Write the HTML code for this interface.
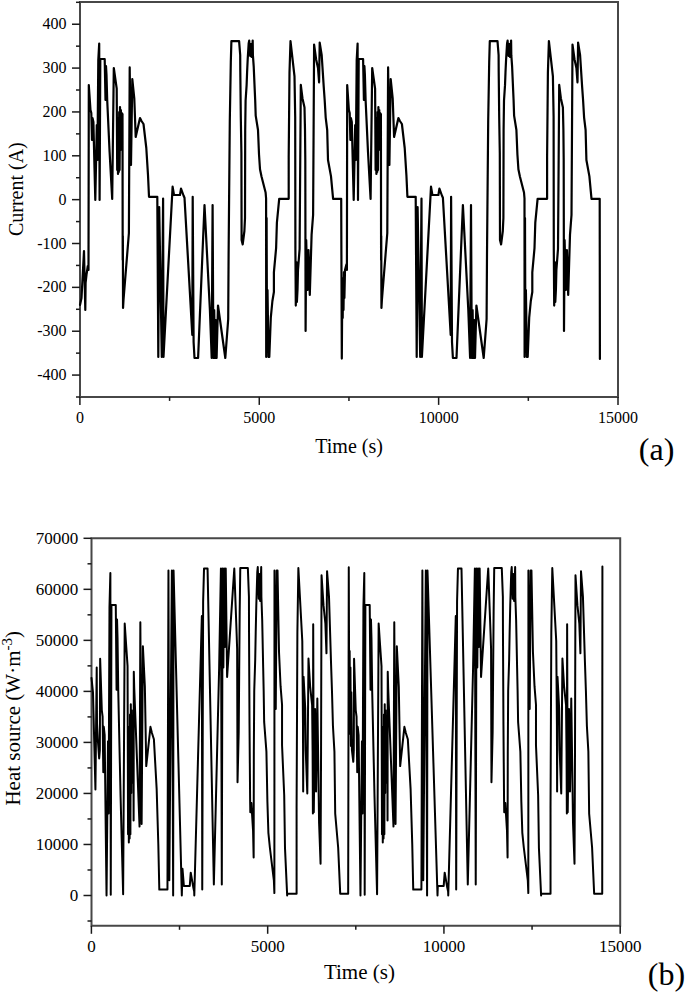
<!DOCTYPE html>
<html><head><meta charset="utf-8"><style>
html,body{margin:0;padding:0;background:#fff;}
svg{display:block;}
text{font-family:"Liberation Serif",serif;fill:#000;}
</style></head><body>
<svg width="685" height="993" viewBox="0 0 685 993">
<rect x="0" y="0" width="685" height="993" fill="#fff"/>
<path d="M80.0,2.0 H618.0 V396.9 H80.0 Z" fill="none" stroke="#474747" stroke-width="2"/>
<line x1="76.0" y1="397.00" x2="80.0" y2="397.00" stroke="#1a1a1a" stroke-width="1.5"/>
<line x1="72.0" y1="375.07" x2="80.0" y2="375.07" stroke="#1a1a1a" stroke-width="1.5"/>
<text x="66.5" y="380.07" text-anchor="end" font-size="16" font-family="Liberation Serif, serif">-400</text>
<line x1="76.0" y1="353.14" x2="80.0" y2="353.14" stroke="#1a1a1a" stroke-width="1.5"/>
<line x1="72.0" y1="331.22" x2="80.0" y2="331.22" stroke="#1a1a1a" stroke-width="1.5"/>
<text x="66.5" y="336.22" text-anchor="end" font-size="16" font-family="Liberation Serif, serif">-300</text>
<line x1="76.0" y1="309.29" x2="80.0" y2="309.29" stroke="#1a1a1a" stroke-width="1.5"/>
<line x1="72.0" y1="287.36" x2="80.0" y2="287.36" stroke="#1a1a1a" stroke-width="1.5"/>
<text x="66.5" y="292.36" text-anchor="end" font-size="16" font-family="Liberation Serif, serif">-200</text>
<line x1="76.0" y1="265.43" x2="80.0" y2="265.43" stroke="#1a1a1a" stroke-width="1.5"/>
<line x1="72.0" y1="243.50" x2="80.0" y2="243.50" stroke="#1a1a1a" stroke-width="1.5"/>
<text x="66.5" y="248.50" text-anchor="end" font-size="16" font-family="Liberation Serif, serif">-100</text>
<line x1="76.0" y1="221.58" x2="80.0" y2="221.58" stroke="#1a1a1a" stroke-width="1.5"/>
<line x1="72.0" y1="199.65" x2="80.0" y2="199.65" stroke="#1a1a1a" stroke-width="1.5"/>
<text x="66.5" y="204.65" text-anchor="end" font-size="16" font-family="Liberation Serif, serif">0</text>
<line x1="76.0" y1="177.72" x2="80.0" y2="177.72" stroke="#1a1a1a" stroke-width="1.5"/>
<line x1="72.0" y1="155.80" x2="80.0" y2="155.80" stroke="#1a1a1a" stroke-width="1.5"/>
<text x="66.5" y="160.80" text-anchor="end" font-size="16" font-family="Liberation Serif, serif">100</text>
<line x1="76.0" y1="133.87" x2="80.0" y2="133.87" stroke="#1a1a1a" stroke-width="1.5"/>
<line x1="72.0" y1="111.94" x2="80.0" y2="111.94" stroke="#1a1a1a" stroke-width="1.5"/>
<text x="66.5" y="116.94" text-anchor="end" font-size="16" font-family="Liberation Serif, serif">200</text>
<line x1="76.0" y1="90.01" x2="80.0" y2="90.01" stroke="#1a1a1a" stroke-width="1.5"/>
<line x1="72.0" y1="68.09" x2="80.0" y2="68.09" stroke="#1a1a1a" stroke-width="1.5"/>
<text x="66.5" y="73.09" text-anchor="end" font-size="16" font-family="Liberation Serif, serif">300</text>
<line x1="76.0" y1="46.16" x2="80.0" y2="46.16" stroke="#1a1a1a" stroke-width="1.5"/>
<line x1="72.0" y1="24.23" x2="80.0" y2="24.23" stroke="#1a1a1a" stroke-width="1.5"/>
<text x="66.5" y="29.23" text-anchor="end" font-size="16" font-family="Liberation Serif, serif">400</text>
<line x1="76.0" y1="2.30" x2="80.0" y2="2.30" stroke="#1a1a1a" stroke-width="1.5"/>
<line x1="79.90" y1="396.9" x2="79.90" y2="404.9" stroke="#1a1a1a" stroke-width="1.5"/>
<text x="79.90" y="423.0" text-anchor="middle" font-size="16" font-family="Liberation Serif, serif">0</text>
<line x1="169.58" y1="396.9" x2="169.58" y2="400.9" stroke="#1a1a1a" stroke-width="1.5"/>
<line x1="259.27" y1="396.9" x2="259.27" y2="404.9" stroke="#1a1a1a" stroke-width="1.5"/>
<text x="259.27" y="423.0" text-anchor="middle" font-size="16" font-family="Liberation Serif, serif">5000</text>
<line x1="348.95" y1="396.9" x2="348.95" y2="400.9" stroke="#1a1a1a" stroke-width="1.5"/>
<line x1="438.63" y1="396.9" x2="438.63" y2="404.9" stroke="#1a1a1a" stroke-width="1.5"/>
<text x="438.63" y="423.0" text-anchor="middle" font-size="16" font-family="Liberation Serif, serif">10000</text>
<line x1="528.32" y1="396.9" x2="528.32" y2="400.9" stroke="#1a1a1a" stroke-width="1.5"/>
<line x1="618.00" y1="396.9" x2="618.00" y2="404.9" stroke="#1a1a1a" stroke-width="1.5"/>
<text x="618.00" y="423.0" text-anchor="middle" font-size="16" font-family="Liberation Serif, serif">15000</text>
<text x="349.1" y="452.7" text-anchor="middle" font-size="20" font-family="Liberation Serif, serif">Time (s)</text>
<text transform="translate(23.3,189.2) rotate(-90)" text-anchor="middle" font-size="20" font-family="Liberation Serif, serif">Current (A)</text>
<text x="656.6" y="459.8" text-anchor="middle" font-size="32" font-family="Liberation Serif, serif">(a)</text>
<path d="M80.00,305.00 L81.50,298.00 L84.00,251.00 L85.30,310.00 L85.60,283.00 L86.60,274.00 L87.80,266.00 L88.50,270.00 L88.80,85.00 L90.50,110.00 L91.30,113.00 L92.00,140.00 L92.50,118.00 L93.40,122.00 L94.50,168.00 L95.30,200.00 L96.80,125.00 L97.40,160.00 L98.30,60.00 L99.20,43.50 L99.60,200.00 L100.30,59.00 L104.70,59.00 L105.50,100.00 L106.00,66.00 L106.50,75.00 L107.20,100.00 L109.60,152.00 L112.20,199.00 L113.80,68.00 L115.20,78.00 L116.70,88.60 L117.20,170.00 L117.60,120.00 L118.00,174.00 L118.40,118.00 L118.80,172.00 L119.20,112.00 L119.60,170.00 L120.00,107.00 L120.50,150.00 L120.90,110.00 L121.30,145.00 L121.80,113.00 L122.20,136.00 L122.50,114.00 L122.70,260.00 L122.85,236.00 L123.05,308.00 L123.50,300.00 L128.90,233.00 L129.70,67.40 L131.00,165.00 L132.30,79.00 L134.30,98.50 L135.70,137.00 L140.00,118.00 L141.50,121.00 L143.50,124.00 L146.30,148.00 L148.00,175.00 L149.00,196.80 L157.30,196.80 L158.30,357.00 L158.70,290.00 L159.20,207.00 L161.80,357.00 L163.10,198.60 L163.50,357.00 L172.60,186.70 L174.00,195.00 L180.00,195.00 L181.00,188.60 L183.50,195.50 L184.50,197.70 L192.30,335.00 L192.70,196.80 L193.60,342.00 L194.50,358.00 L198.10,358.00 L204.50,205.00 L209.90,310.00 L211.70,358.00 L212.60,205.00 L213.40,358.00 L214.20,310.00 L215.00,358.00 L215.80,320.00 L216.60,358.00 L218.00,305.50 L225.30,358.00 L227.70,326.00 L228.20,319.00 L228.60,254.50 L229.80,120.60 L230.30,91.40 L230.80,62.20 L231.40,41.10 L239.10,41.10 L240.20,55.00 L240.30,72.00 L240.80,117.00 L241.40,153.00 L241.60,240.00 L242.70,244.40 L244.40,231.00 L245.00,218.00 L245.20,130.00 L245.60,100.50 L246.60,85.40 L247.10,72.30 L247.70,59.20 L248.70,43.10 L249.20,40.60 L250.20,56.00 L251.00,44.00 L251.60,57.00 L252.70,40.60 L252.90,55.20 L253.70,66.30 L254.70,89.40 L255.20,100.50 L255.70,115.60 L258.00,130.00 L258.50,142.00 L259.00,154.20 L260.00,169.30 L261.50,176.40 L265.60,192.50 L266.10,198.50 L266.20,357.00 L266.60,218.00 L267.00,345.00 L267.50,290.00 L268.50,357.00 L269.30,357.00 L270.80,317.70 L272.40,301.00 L273.90,292.00 L273.90,272.40 L276.10,248.20 L276.90,222.60 L279.20,198.80 L288.70,198.80 L288.70,157.30 L289.50,72.40 L290.50,41.10 L294.50,76.40 L295.20,116.70 L295.40,250.00 L295.80,305.60 L296.40,262.00 L296.90,302.00 L297.50,290.00 L298.00,270.00 L299.60,249.00 L300.80,84.90 L302.50,98.50 L304.50,107.50 L305.00,130.00 L305.30,160.00 L305.60,331.00 L306.20,240.00 L307.50,290.00 L308.50,250.00 L309.80,295.00 L311.60,234.60 L313.10,215.00 L313.60,130.00 L314.10,44.60 L316.10,59.20 L318.00,68.00 L319.10,82.40 L319.70,42.60 L321.70,55.20 L323.70,86.40 L324.70,100.50 L325.70,117.60 L327.20,130.00 L328.00,160.00 L331.00,176.40 L333.10,198.80 L341.20,198.80 L341.80,358.60 L342.30,285.00 L342.70,318.00 L343.10,278.00 L343.50,310.00 L344.00,272.00 L344.40,298.00 L345.00,270.00 L346.40,264.40 L346.90,270.00 L347.20,85.00 L348.90,110.00 L349.70,113.00 L350.40,140.00 L350.90,118.00 L351.80,122.00 L352.90,168.00 L353.70,200.00 L355.20,125.00 L355.80,160.00 L356.70,60.00 L357.60,43.50 L358.00,200.00 L358.70,59.00 L363.10,59.00 L363.90,100.00 L364.40,66.00 L364.90,75.00 L365.60,100.00 L368.00,152.00 L370.60,199.00 L372.20,68.00 L373.60,78.00 L375.10,88.60 L375.60,170.00 L376.00,120.00 L376.40,174.00 L376.80,118.00 L377.20,172.00 L377.60,112.00 L378.00,170.00 L378.40,107.00 L378.90,150.00 L379.30,110.00 L379.70,145.00 L380.20,113.00 L380.60,136.00 L380.90,114.00 L381.10,260.00 L381.25,236.00 L381.45,308.00 L381.90,300.00 L387.30,233.00 L388.10,67.40 L389.40,165.00 L390.70,79.00 L392.70,98.50 L394.10,137.00 L398.40,118.00 L399.90,121.00 L401.90,124.00 L404.70,148.00 L406.40,175.00 L407.40,196.80 L415.70,196.80 L416.70,357.00 L417.10,290.00 L417.60,207.00 L420.20,357.00 L421.50,198.60 L421.90,357.00 L431.00,186.70 L432.40,195.00 L438.40,195.00 L439.40,188.60 L441.90,195.50 L442.90,197.70 L450.70,335.00 L451.10,196.80 L452.00,342.00 L452.90,358.00 L456.50,358.00 L462.90,205.00 L468.30,310.00 L470.10,358.00 L471.00,205.00 L471.80,358.00 L472.60,310.00 L473.40,358.00 L474.20,320.00 L475.00,358.00 L476.40,305.50 L483.70,358.00 L486.10,326.00 L486.60,319.00 L487.00,254.50 L488.20,120.60 L488.70,91.40 L489.20,62.20 L489.80,41.10 L497.50,41.10 L498.60,55.00 L498.70,72.00 L499.20,117.00 L499.80,153.00 L500.00,240.00 L501.10,244.40 L502.80,231.00 L503.40,218.00 L503.60,130.00 L504.00,100.50 L505.00,85.40 L505.50,72.30 L506.10,59.20 L507.10,43.10 L507.60,40.60 L508.60,56.00 L509.40,44.00 L510.00,57.00 L511.10,40.60 L511.30,55.20 L512.10,66.30 L513.10,89.40 L513.60,100.50 L514.10,115.60 L516.40,130.00 L516.90,142.00 L517.40,154.20 L518.40,169.30 L519.90,176.40 L524.00,192.50 L524.50,198.50 L524.60,357.00 L525.00,218.00 L525.40,345.00 L525.90,290.00 L526.90,357.00 L527.70,357.00 L529.20,317.70 L530.80,301.00 L532.30,292.00 L532.30,272.40 L534.50,248.20 L535.30,222.60 L537.60,198.80 L547.10,198.80 L547.10,157.30 L547.90,72.40 L548.90,41.10 L552.90,76.40 L553.60,116.70 L553.80,250.00 L554.20,305.60 L554.80,262.00 L555.30,302.00 L555.90,290.00 L556.40,270.00 L558.00,249.00 L559.20,84.90 L560.90,98.50 L562.90,107.50 L563.40,130.00 L563.70,160.00 L564.00,331.00 L564.60,240.00 L565.90,290.00 L566.90,250.00 L568.20,295.00 L570.00,234.60 L571.50,215.00 L572.00,130.00 L572.50,44.60 L574.50,59.20 L576.40,68.00 L577.50,82.40 L578.10,42.60 L580.10,55.20 L582.10,86.40 L583.10,100.50 L584.10,117.60 L585.60,130.00 L586.40,160.00 L589.40,176.40 L591.50,198.80 L599.60,198.80 L599.70,198.80 L599.90,359.00" fill="none" stroke="#000" stroke-width="2.2" stroke-linejoin="round" stroke-linecap="round"/>
<path d="M91.5,538.3 H620.2 V925.8 H91.5 Z" fill="none" stroke="#474747" stroke-width="2"/>
<line x1="87.5" y1="921.01" x2="91.5" y2="921.01" stroke="#1a1a1a" stroke-width="1.5"/>
<line x1="83.5" y1="895.50" x2="91.5" y2="895.50" stroke="#1a1a1a" stroke-width="1.5"/>
<text x="78.3" y="901.30" text-anchor="end" font-size="17" font-family="Liberation Serif, serif">0</text>
<line x1="87.5" y1="869.99" x2="91.5" y2="869.99" stroke="#1a1a1a" stroke-width="1.5"/>
<line x1="83.5" y1="844.47" x2="91.5" y2="844.47" stroke="#1a1a1a" stroke-width="1.5"/>
<text x="78.3" y="850.27" text-anchor="end" font-size="17" font-family="Liberation Serif, serif">10000</text>
<line x1="87.5" y1="818.96" x2="91.5" y2="818.96" stroke="#1a1a1a" stroke-width="1.5"/>
<line x1="83.5" y1="793.44" x2="91.5" y2="793.44" stroke="#1a1a1a" stroke-width="1.5"/>
<text x="78.3" y="799.24" text-anchor="end" font-size="17" font-family="Liberation Serif, serif">20000</text>
<line x1="87.5" y1="767.93" x2="91.5" y2="767.93" stroke="#1a1a1a" stroke-width="1.5"/>
<line x1="83.5" y1="742.41" x2="91.5" y2="742.41" stroke="#1a1a1a" stroke-width="1.5"/>
<text x="78.3" y="748.21" text-anchor="end" font-size="17" font-family="Liberation Serif, serif">30000</text>
<line x1="87.5" y1="716.90" x2="91.5" y2="716.90" stroke="#1a1a1a" stroke-width="1.5"/>
<line x1="83.5" y1="691.39" x2="91.5" y2="691.39" stroke="#1a1a1a" stroke-width="1.5"/>
<text x="78.3" y="697.19" text-anchor="end" font-size="17" font-family="Liberation Serif, serif">40000</text>
<line x1="87.5" y1="665.87" x2="91.5" y2="665.87" stroke="#1a1a1a" stroke-width="1.5"/>
<line x1="83.5" y1="640.36" x2="91.5" y2="640.36" stroke="#1a1a1a" stroke-width="1.5"/>
<text x="78.3" y="646.16" text-anchor="end" font-size="17" font-family="Liberation Serif, serif">50000</text>
<line x1="87.5" y1="614.84" x2="91.5" y2="614.84" stroke="#1a1a1a" stroke-width="1.5"/>
<line x1="83.5" y1="589.33" x2="91.5" y2="589.33" stroke="#1a1a1a" stroke-width="1.5"/>
<text x="78.3" y="595.13" text-anchor="end" font-size="17" font-family="Liberation Serif, serif">60000</text>
<line x1="87.5" y1="563.81" x2="91.5" y2="563.81" stroke="#1a1a1a" stroke-width="1.5"/>
<line x1="83.5" y1="538.30" x2="91.5" y2="538.30" stroke="#1a1a1a" stroke-width="1.5"/>
<text x="78.3" y="544.10" text-anchor="end" font-size="17" font-family="Liberation Serif, serif">70000</text>
<line x1="91.40" y1="925.8" x2="91.40" y2="933.8" stroke="#1a1a1a" stroke-width="1.5"/>
<text x="91.40" y="952.0" text-anchor="middle" font-size="17" font-family="Liberation Serif, serif">0</text>
<line x1="179.53" y1="925.8" x2="179.53" y2="929.8" stroke="#1a1a1a" stroke-width="1.5"/>
<line x1="267.67" y1="925.8" x2="267.67" y2="933.8" stroke="#1a1a1a" stroke-width="1.5"/>
<text x="267.67" y="952.0" text-anchor="middle" font-size="17" font-family="Liberation Serif, serif">5000</text>
<line x1="355.80" y1="925.8" x2="355.80" y2="929.8" stroke="#1a1a1a" stroke-width="1.5"/>
<line x1="443.93" y1="925.8" x2="443.93" y2="933.8" stroke="#1a1a1a" stroke-width="1.5"/>
<text x="443.93" y="952.0" text-anchor="middle" font-size="17" font-family="Liberation Serif, serif">10000</text>
<line x1="532.07" y1="925.8" x2="532.07" y2="929.8" stroke="#1a1a1a" stroke-width="1.5"/>
<line x1="620.20" y1="925.8" x2="620.20" y2="933.8" stroke="#1a1a1a" stroke-width="1.5"/>
<text x="620.20" y="952.0" text-anchor="middle" font-size="17" font-family="Liberation Serif, serif">15000</text>
<text x="359.4" y="978.8" text-anchor="middle" font-size="21" font-family="Liberation Serif, serif">Time (s)</text>
<text transform="translate(20.2,718.3) rotate(-90)" text-anchor="middle" font-size="21" font-family="Liberation Serif, serif">Heat source (W&#183;m<tspan font-size="15" dy="-8.5">-3</tspan><tspan dy="8.5">)</tspan></text>
<text x="666.4" y="985" text-anchor="middle" font-size="32" font-family="Liberation Serif, serif">(b)</text>
<path d="M91.50,677.92 L92.97,692.37 L95.43,789.44 L96.71,667.59 L97.00,723.35 L97.98,741.94 L99.16,758.46 L99.85,750.20 L100.15,658.71 L101.82,710.34 L102.60,716.54 L103.29,772.30 L103.78,726.86 L104.67,735.13 L105.75,830.13 L106.53,894.78 L106.54,895.50 L108.01,741.32 L108.60,813.61 L109.48,607.07 L110.37,573.00 L110.76,894.78 L111.45,605.01 L115.77,605.01 L116.56,689.69 L117.05,619.47 L117.54,638.05 L118.23,689.69 L120.59,797.09 L123.14,894.16 L124.71,623.60 L126.09,644.25 L127.56,666.14 L128.06,834.26 L128.45,731.00 L128.84,842.52 L129.23,726.86 L129.63,838.39 L130.02,714.47 L130.41,834.26 L130.81,704.15 L131.30,792.96 L131.69,710.34 L132.08,782.63 L132.58,716.54 L132.97,764.04 L133.26,718.60 L133.46,770.86 L133.61,820.42 L133.80,671.72 L134.25,688.24 L139.55,826.62 L140.34,622.36 L141.62,823.94 L142.89,646.32 L144.86,686.59 L146.24,766.11 L150.46,726.86 L151.94,733.06 L153.90,739.26 L156.65,788.82 L158.32,844.59 L159.31,889.61 L167.46,889.61 L168.45,570.52 L168.84,708.90 L169.33,880.32 L171.88,570.52 L173.15,895.50 L173.16,893.33 L173.56,570.52 L181.82,895.50 L182.50,868.75 L183.87,885.90 L189.77,885.90 L190.75,872.68 L193.21,886.93 L194.19,891.47 L194.30,895.50 L201.86,615.96 L202.25,889.61 L203.13,601.50 L204.02,568.45 L207.56,568.45 L213.85,884.45 L219.15,667.59 L220.92,568.45 L221.81,884.45 L222.59,568.45 L223.38,667.59 L224.17,568.45 L224.95,646.94 L225.74,568.45 L227.11,676.88 L234.29,568.45 L236.65,634.54 L237.14,649.00 L237.53,782.22 L238.71,732.23 L239.20,671.93 L239.69,611.62 L240.28,568.04 L247.85,568.04 L248.93,596.75 L249.03,631.86 L249.52,724.80 L250.11,799.15 L250.31,812.16 L251.39,803.08 L253.06,830.75 L253.65,857.60 L253.84,751.65 L254.24,690.72 L255.22,659.53 L255.71,632.48 L256.30,605.42 L257.28,572.17 L257.77,567.01 L258.76,598.81 L259.54,574.03 L260.13,600.88 L261.21,567.01 L261.41,597.16 L262.20,620.09 L263.18,667.80 L263.67,690.72 L264.16,721.91 L266.42,751.65 L266.91,776.43 L267.40,801.63 L268.39,832.82 L269.86,847.48 L273.89,880.73 L274.38,893.12 L274.48,570.52 L275.76,708.90 L276.74,570.52 L277.53,570.52 L279.00,651.69 L280.57,686.18 L282.05,704.77 L282.05,745.25 L284.21,795.23 L285.00,848.10 L287.17,895.50 L287.26,893.74 L296.59,893.74 L296.59,808.03 L297.38,632.68 L298.36,568.04 L302.29,640.95 L302.98,724.18 L303.18,791.51 L303.57,676.68 L305.24,708.90 L305.73,750.20 L307.30,793.58 L308.48,658.50 L310.15,686.59 L312.12,705.18 L312.61,751.65 L312.90,813.61 L313.20,624.22 L313.79,812.16 L315.07,708.90 L316.05,791.51 L317.33,698.57 L319.10,823.32 L320.57,863.80 L321.06,751.65 L321.55,575.27 L323.52,605.42 L325.38,623.60 L326.47,653.34 L327.06,571.14 L329.02,597.16 L330.99,661.60 L331.97,690.72 L332.95,726.04 L334.43,751.65 L335.21,813.61 L338.16,847.48 L340.22,893.74 L348.18,893.74 L348.77,567.21 L349.26,719.22 L349.66,651.07 L350.05,733.68 L350.44,667.59 L350.94,746.07 L351.33,692.37 L351.92,750.20 L353.29,761.77 L353.79,750.20 L354.08,658.71 L355.75,710.34 L356.54,716.54 L357.22,772.30 L357.72,726.86 L358.60,735.13 L359.68,830.13 L360.47,894.78 L360.47,895.50 L361.94,741.32 L362.53,813.61 L363.42,607.07 L364.30,573.00 L364.69,894.78 L365.38,605.01 L369.71,605.01 L370.49,689.69 L370.98,619.47 L371.47,638.05 L372.16,689.69 L374.52,797.09 L377.08,894.16 L378.65,623.60 L380.02,644.25 L381.50,666.14 L381.99,834.26 L382.38,731.00 L382.78,842.52 L383.17,726.86 L383.56,838.39 L383.95,714.47 L384.35,834.26 L384.74,704.15 L385.23,792.96 L385.63,710.34 L386.02,782.63 L386.51,716.54 L386.90,764.04 L387.20,718.60 L387.39,770.86 L387.54,820.42 L387.74,671.72 L388.18,688.24 L393.49,826.62 L394.27,622.36 L395.55,823.94 L396.83,646.32 L398.79,686.59 L400.17,766.11 L404.40,726.86 L405.87,733.06 L407.83,739.26 L410.59,788.82 L412.26,844.59 L413.24,889.61 L421.40,889.61 L422.38,570.52 L422.77,708.90 L423.26,880.32 L425.82,570.52 L427.09,895.50 L427.10,893.33 L427.49,570.52 L437.51,895.50 L437.81,885.90 L443.70,885.90 L444.69,872.68 L447.14,886.93 L448.13,891.47 L448.24,895.50 L455.79,615.96 L456.18,889.61 L457.07,601.50 L457.95,568.45 L461.49,568.45 L467.78,884.45 L473.09,667.59 L474.86,568.45 L475.74,884.45 L476.53,568.45 L477.31,667.59 L478.10,568.45 L478.89,646.94 L479.67,568.45 L481.05,676.88 L488.22,568.45 L490.58,634.54 L491.07,649.00 L491.46,782.22 L492.64,732.23 L493.13,671.93 L493.63,611.62 L494.22,568.04 L501.78,568.04 L502.86,596.75 L502.96,631.86 L503.45,724.80 L504.04,799.15 L504.24,812.16 L505.32,803.08 L506.99,830.75 L507.58,857.60 L507.78,751.65 L508.17,690.72 L509.15,659.53 L509.64,632.48 L510.23,605.42 L511.22,572.17 L511.71,567.01 L512.69,598.81 L513.48,574.03 L514.07,600.88 L515.15,567.01 L515.34,597.16 L516.13,620.09 L517.11,667.80 L517.60,690.72 L518.10,721.91 L520.36,751.65 L520.85,776.43 L521.34,801.63 L522.32,832.82 L523.80,847.48 L527.82,880.73 L528.32,893.12 L528.41,570.52 L529.69,708.90 L530.67,570.52 L531.46,570.52 L532.93,651.69 L534.51,686.18 L535.98,704.77 L535.98,745.25 L538.14,795.23 L538.93,848.10 L541.11,895.50 L541.19,893.74 L550.53,893.74 L550.53,808.03 L551.31,632.68 L552.29,568.04 L556.23,640.95 L556.91,724.18 L557.11,791.51 L557.50,676.68 L559.17,708.90 L559.66,750.20 L561.24,793.58 L562.42,658.50 L564.09,686.59 L566.05,705.18 L566.54,751.65 L566.84,813.61 L567.13,624.22 L567.72,812.16 L569.00,708.90 L569.98,791.51 L571.26,698.57 L573.03,823.32 L574.50,863.80 L575.00,751.65 L575.49,575.27 L577.45,605.42 L579.32,623.60 L580.40,653.34 L580.99,571.14 L582.96,597.16 L584.92,661.60 L585.90,690.72 L586.89,726.04 L588.36,751.65 L589.15,813.61 L592.09,847.48 L594.16,893.74 L602.12,893.74 L602.22,893.74 L602.41,566.39" fill="none" stroke="#000" stroke-width="2.0" stroke-linejoin="round" stroke-linecap="round"/>
</svg>
</body></html>
